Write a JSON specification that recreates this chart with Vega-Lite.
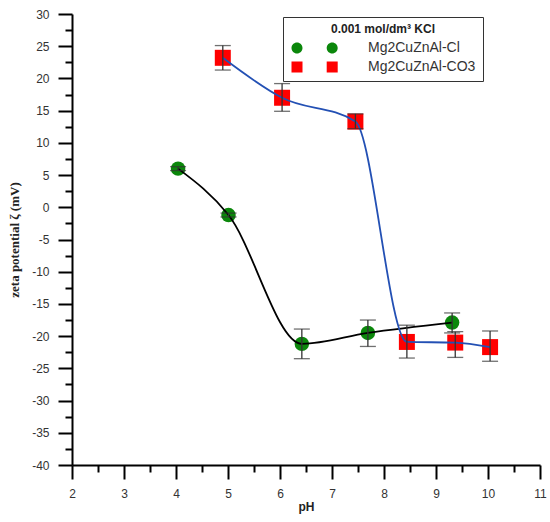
{
  "$schema": "https://vega.github.io/schema/vega-lite/v6.json",
  "autosize": {"type": "none"},
  "width": 468,
  "height": 451,
  "padding": {"left": 72, "top": 14, "right": 10, "bottom": 57},
  "background": "white",
  "config": {"view": {"stroke": null}},
  "datasets": {
    "pts": [
      {"series": "Mg2CuZnAl-Cl", "pH": 4.04, "zeta": 6.0, "lo": 5.7, "hi": 6.3},
      {"series": "Mg2CuZnAl-Cl", "pH": 5.01, "zeta": -1.2, "lo": -1.5, "hi": -0.9},
      {"series": "Mg2CuZnAl-Cl", "pH": 6.42, "zeta": -21.2, "lo": -23.5, "hi": -18.9},
      {"series": "Mg2CuZnAl-Cl", "pH": 7.69, "zeta": -19.5, "lo": -21.6, "hi": -17.5},
      {"series": "Mg2CuZnAl-Cl", "pH": 9.31, "zeta": -17.9, "lo": -19.5, "hi": -16.4},
      {"series": "Mg2CuZnAl-CO3", "pH": 4.90, "zeta": 23.2, "lo": 21.3, "hi": 25.1},
      {"series": "Mg2CuZnAl-CO3", "pH": 6.04, "zeta": 17.0, "lo": 14.9, "hi": 19.2},
      {"series": "Mg2CuZnAl-CO3", "pH": 7.45, "zeta": 13.3, "lo": 12.2, "hi": 14.5},
      {"series": "Mg2CuZnAl-CO3", "pH": 8.44, "zeta": -20.9, "lo": -23.4, "hi": -18.3},
      {"series": "Mg2CuZnAl-CO3", "pH": 9.37, "zeta": -21.0, "lo": -23.3, "hi": -19.3},
      {"series": "Mg2CuZnAl-CO3", "pH": 10.04, "zeta": -21.7, "lo": -23.9, "hi": -19.2}
    ]
  },
  "data": {"name": "pts"},
  "resolve": {"axis": {"x": "independent", "y": "independent"}},
  "layer": [
    {
      "transform": [{"filter": "datum.series === 'Mg2CuZnAl-Cl'"}],
      "mark": {"type": "point", "shape": "circle", "filled": true, "size": 210, "strokeWidth": 0, "fillOpacity": 1, "opacity": 1},
      "encoding": {
        "x": {
          "field": "pH", "type": "quantitative",
          "scale": {"domain": [2, 11], "nice": false, "zero": false},
          "axis": {
            "orient": "bottom",
            "values": [2, 3, 4, 5, 6, 7, 8, 9, 10, 11],
            "tickSize": 14,
            "labelExpr": "'' + datum.value",
            "grid": false,
            "domainColor": "#000", "domainWidth": 2,
            "tickColor": "#000", "tickWidth": 2,
            "labelFont": "Liberation Sans", "labelFontSize": 12, "labelColor": "#333",
            "labelPadding": 9, "labelOverlap": false, "labelFlush": false,
            "title": "pH", "titleFont": "Liberation Sans", "titleFontSize": 12,
            "titleFontWeight": "bold", "titleColor": "#222", "titlePadding": 2
          }
        },
        "y": {
          "field": "zeta", "type": "quantitative",
          "scale": {"domain": [-40, 30], "nice": false, "zero": false},
          "axis": {
            "orient": "left",
            "values": [-40, -35, -30, -25, -20, -15, -10, -5, 0, 5, 10, 15, 20, 25, 30],
            "tickSize": 14,
            "labelExpr": "'' + datum.value",
            "grid": false,
            "domainColor": "#000", "domainWidth": 2,
            "tickColor": "#000", "tickWidth": 2,
            "labelFont": "Liberation Sans", "labelFontSize": 12, "labelColor": "#333",
            "labelPadding": 9, "labelOverlap": false, "labelFlush": false,
            "title": "zeta potential ζ (mV)", "titleFont": "Liberation Serif", "titleFontSize": 13,
            "titleFontWeight": "bold", "titleColor": "#222", "titlePadding": 10
          }
        },
        "fill": {
          "field": "series", "type": "nominal",
          "scale": {"domain": ["Mg2CuZnAl-Cl", "Mg2CuZnAl-CO3"], "range": ["#0b870b", "#ff0000"]},
          "legend": {
            "orient": "none", "legendX": 211, "legendY": 3,
            "title": "0.001 mol/dm³ KCl",
            "titleFont": "Liberation Sans", "titleFontSize": 12, "titleFontWeight": "bold",
            "titleColor": "#222", "titleAnchor": "middle", "titlePadding": 5,
            "labelFont": "Liberation Sans", "labelFontSize": 14, "labelColor": "#333",
            "labelOffset": 64,
            "strokeColor": "#333", "padding": 7, "rowPadding": 5,
            "symbolSize": 121, "symbolStrokeWidth": 0,
            "symbolType": {"expr": "datum.value === 'Mg2CuZnAl-Cl' ? 'M1,0 A1,1 0 1,1 -1,0 A1,1 0 1,1 1,0 Z M7.4,0 A1,1 0 1,1 5.4,0 A1,1 0 1,1 7.4,0 Z' : 'M-1,-1 H1 V1 H-1 Z M5.4,-1 H7.4 V1 H5.4 Z'"}
          }
        }
      }
    },
    {
      "transform": [{"filter": "datum.series === 'Mg2CuZnAl-CO3'"}],
      "mark": {"type": "point", "shape": "square", "filled": true, "size": 256, "strokeWidth": 0, "fillOpacity": 1, "opacity": 1},
      "encoding": {
        "x": {"field": "pH", "type": "quantitative", "axis": null},
        "y": {"field": "zeta", "type": "quantitative", "axis": null},
        "fill": {"field": "series", "type": "nominal"}
      }
    },
    {
      "transform": [{"filter": "datum.series === 'Mg2CuZnAl-Cl'"}],
      "mark": {"type": "line", "interpolate": "monotone", "strokeWidth": 1.8, "color": "#000000"},
      "encoding": {
        "x": {"field": "pH", "type": "quantitative", "axis": null},
        "y": {"field": "zeta", "type": "quantitative", "axis": null}
      }
    },
    {
      "transform": [{"filter": "datum.series === 'Mg2CuZnAl-CO3'"}],
      "mark": {"type": "line", "interpolate": "monotone", "strokeWidth": 1.8, "color": "#2350b4"},
      "encoding": {
        "x": {"field": "pH", "type": "quantitative", "axis": null},
        "y": {"field": "zeta", "type": "quantitative", "axis": null}
      }
    },
    {
      "mark": {"type": "rule", "color": "#333", "strokeWidth": 1.3},
      "encoding": {
        "x": {
          "field": "pH", "type": "quantitative",
          "axis": {
            "orient": "bottom",
            "values": [2.5, 3.5, 4.5, 5.5, 6.5, 7.5, 8.5, 9.5, 10.5],
            "tickSize": 7, "tickColor": "#000", "tickWidth": 2,
            "labels": false, "domain": false, "grid": false, "title": null
          }
        },
        "y": {
          "field": "lo", "type": "quantitative",
          "axis": {
            "orient": "left",
            "values": [-37.5, -32.5, -27.5, -22.5, -17.5, -12.5, -7.5, -2.5, 2.5, 7.5, 12.5, 17.5, 22.5, 27.5],
            "tickSize": 7, "tickColor": "#000", "tickWidth": 2,
            "labels": false, "domain": false, "grid": false, "title": null
          }
        },
        "y2": {"field": "hi"}
      }
    },
    {
      "mark": {"type": "tick", "orient": "horizontal", "color": "#333", "size": 16, "thickness": 1.3},
      "encoding": {
        "x": {"field": "pH", "type": "quantitative", "axis": null},
        "y": {"field": "lo", "type": "quantitative", "axis": null}
      }
    },
    {
      "mark": {"type": "tick", "orient": "horizontal", "color": "#333", "size": 16, "thickness": 1.3},
      "encoding": {
        "x": {"field": "pH", "type": "quantitative", "axis": null},
        "y": {"field": "hi", "type": "quantitative", "axis": null}
      }
    }
  ]
}
